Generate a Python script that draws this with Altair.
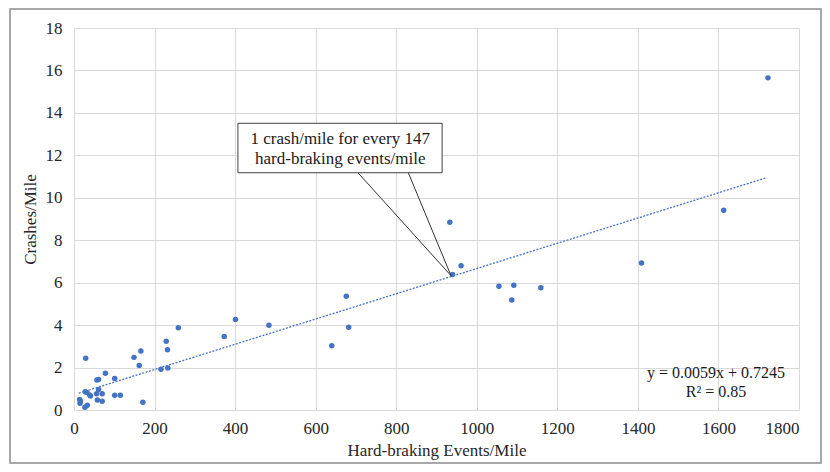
import altair as alt
import pandas as pd

# Scatter data (hard-braking events/mile vs crashes/mile)
events = [14, 16, 15, 27, 33, 29, 28, 32, 39, 41, 57, 61, 78, 61, 56, 70, 58, 70,
          101, 101, 115, 149, 166, 162, 171, 216, 233, 232, 229, 259, 373, 401, 484,
          640, 682, 676, 933, 961, 940, 1055, 1092, 1087, 1159, 1409, 1613, 1723]
crashes = [0.50, 0.42, 0.32, 0.13, 0.22, 2.44, 0.86, 0.82, 0.71, 0.66, 1.41, 1.44, 1.73, 0.97, 0.77, 0.77, 0.47, 0.41,
           1.48, 0.69, 0.69, 2.48, 2.78, 2.10, 0.36, 1.92, 1.98, 2.84, 3.24, 3.88, 3.46, 4.27, 3.99,
           3.03, 3.90, 5.36, 8.85, 6.80, 6.39, 5.83, 5.88, 5.18, 5.76, 6.93, 9.41, 15.65]

# Linear trend line endpoints (y = 0.0059x + 0.7245)
trend_x = [12, 1720]
trend_y = [0.79, 10.95]

# Equation labels
eq_text = ["y = 0.0059x + 0.7245", "R² = 0.85"]
eq_x = [1594, 1594]
eq_y = [1.74, 0.85]

# Callout
callout_text = ["1 crash/mile for every 147", "hard-braking events/mile"]
callout_tx = [661, 661]
callout_ty = [12.54, 11.59]
box_x = [407]
box_x2 = [914]
box_y = [11.18]
box_y2 = [13.51]
pointer_x = [705, 936, 830]
pointer_y = [11.18, 6.33, 11.18]

FONT = "'Liberation Serif', 'Times New Roman', 'DejaVu Serif', serif"
BLUE = "#4472C4"

pts = pd.DataFrame({"x": events, "y": crashes})
trend = pd.DataFrame({"x": trend_x, "y": trend_y})
eq = pd.DataFrame({"x": eq_x, "y": eq_y, "t": eq_text})
ctext = pd.DataFrame({"x": callout_tx, "y": callout_ty, "t": callout_text})
box = pd.DataFrame({"x": box_x, "x2": box_x2, "y": box_y, "y2": box_y2})
ptr = pd.DataFrame({"x": pointer_x, "y": pointer_y, "o": [0, 1, 2]})

xscale = alt.Scale(domain=[0, 1800], nice=False)
yscale = alt.Scale(domain=[0, 18], nice=False)

xaxis = alt.Axis(values=list(range(0, 1801, 200)), title="Hard-braking Events/Mile", format="d",
                 labelAlign=alt.ExprRef("datum.value == 1800 ? 'right' : 'center'"),
                 labelPadding=10, titlePadding=6)
yaxis = alt.Axis(values=list(range(0, 19, 2)), title="Crashes/Mile", format="d",
                 labelPadding=12, titlePadding=6)

border = alt.Chart(pd.DataFrame({"a": [0]})).mark_rect(
    fill=None, stroke="#8c8c8c", strokeWidth=1.5, clip=False
).encode(x=alt.value(-64), x2=alt.value(747), y=alt.value(-19), y2=alt.value(435))

points = alt.Chart(pts).mark_circle(size=30, color=BLUE, opacity=1).encode(
    x=alt.X("x:Q", scale=xscale, axis=xaxis),
    y=alt.Y("y:Q", scale=yscale, axis=yaxis),
)

trend_line = alt.Chart(trend).mark_line(color=BLUE, strokeWidth=1.3, strokeDash=[2, 1.5]).encode(
    x=alt.X("x:Q", scale=xscale), y=alt.Y("y:Q", scale=yscale)
)

pointer = alt.Chart(ptr).mark_line(color="#333333", strokeWidth=1).encode(
    x=alt.X("x:Q", scale=xscale), y=alt.Y("y:Q", scale=yscale), order="o:Q"
)

box_mark = alt.Chart(box).mark_rect(fill="white", stroke="#404040", strokeWidth=1).encode(
    x=alt.X("x:Q", scale=xscale), x2="x2:Q", y=alt.Y("y:Q", scale=yscale), y2="y2:Q"
)

callout = alt.Chart(ctext).mark_text(font=FONT, fontSize=17, color="#1a1a1a",
                                      align="center", baseline="alphabetic").encode(
    x=alt.X("x:Q", scale=xscale), y=alt.Y("y:Q", scale=yscale), text="t:N"
)

eq_mark = alt.Chart(eq).mark_text(font=FONT, fontSize=16, color="#1a1a1a",
                                   align="center", baseline="middle").encode(
    x=alt.X("x:Q", scale=xscale), y=alt.Y("y:Q", scale=yscale), text="t:N"
)

chart = alt.layer(border, trend_line, points, pointer, box_mark, callout, eq_mark).properties(
    width=725, height=382,
    autosize=alt.AutoSizeParams(type="none"),
    padding={"left": 66, "top": 20, "right": 23, "bottom": 54},
).configure_view(stroke=None).configure_axis(
    domain=False, ticks=False, grid=True, gridColor="#d9d9d9", gridWidth=1,
    labelFont=FONT, labelFontSize=17, labelColor="#262626",
    titleFont=FONT, titleFontSize=17, titleFontWeight="normal", titleColor="#262626",
)

chart.save("out.html", embed_options={"renderer": "svg", "actions": False})
